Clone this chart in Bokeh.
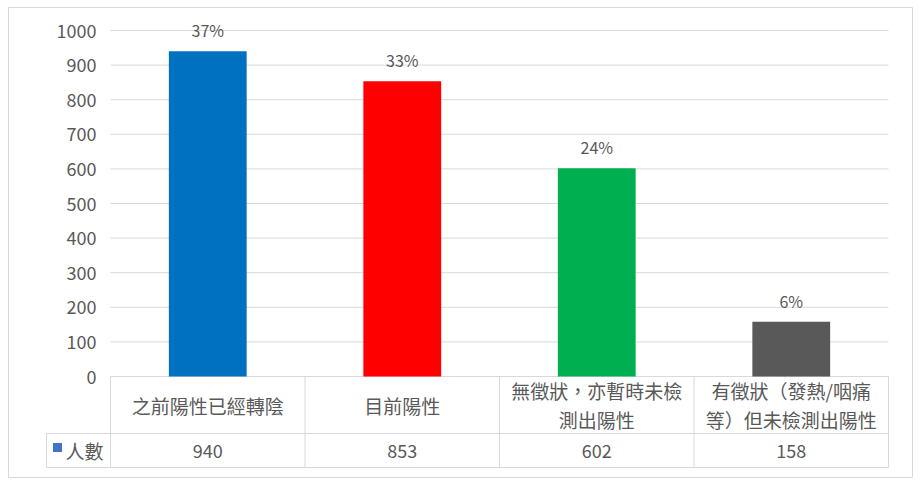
from bokeh.plotting import figure
from bokeh.models import LinearAxis, FixedTicker, Range1d
from bokeh.core.properties import value
from bokeh.embed import file_html
from bokeh.resources import INLINE

# ---- data ----
categories = ["之前陽性已經轉陰", "目前陽性", "無徵狀，亦暫時未檢\n測出陽性", "有徵狀（發熱/咽痛\n等）但未檢測出陽性"]
counts = [940, 853, 602, 158]
pct_labels = ["37%", "33%", "24%", "6%"]
series_name = "人數"
bar_colors = ["#0070C0", "#FF0000", "#00B050", "#595959"]
legend_color = "#4472C4"
y_ticks = [0, 100, 200, 300, 400, 500, 600, 700, 800, 900, 1000]

# ---- layout constants (pixels inside the frame) ----
OFF_L, OFF_T = 8, 7
FW, FH = 905, 471
PX_X0 = 102.0      # left edge of plot area
CAT_W = 194.5      # pixels per category
PX_Y0 = 369.0      # pixel row of value 0
PY = 0.346         # pixels per value unit
ROW1_BOTTOM = 426.0
ROW2_BOTTOM = 460.0
LEFT_COL = 38.0

def X(px):
    return (px - PX_X0) / CAT_W

def Y(py):
    return (PX_Y0 - py) / PY

FONT = value("Noto Sans CJK TC")
GRAY_TXT = "#595959"
LINE = "#d9d9d9"

p = figure(width=OFF_L + FW, height=OFF_T + FH, output_backend="svg", toolbar_location=None,
           x_range=Range1d(X(0), X(FW)), y_range=Range1d(Y(FH), Y(0)),
           x_axis_location=None, y_axis_location=None,
           min_border_left=OFF_L, min_border_top=OFF_T, min_border_right=0, min_border_bottom=0,
           background_fill_color="white", border_fill_color="white")
p.outline_line_color = LINE
p.outline_line_width = 1
p.xgrid.visible = False
p.ygrid.visible = False

n = len(categories)
xc = [i + 0.5 for i in range(n)]

# gridlines
p.segment(x0=[0] * len(y_ticks), x1=[n] * len(y_ticks), y0=y_ticks, y1=y_ticks,
          line_color=LINE, line_width=1)

# bars
p.vbar(x=xc, top=counts, width=0.4, color=bar_colors, line_color=None)

# percent labels
p.text(x=xc, y=counts, text=pct_labels, text_align="center", text_baseline="middle",
       y_offset=-21, text_font=FONT, text_font_size="16px", text_color=GRAY_TXT)

# table lines
y_r1 = Y(ROW1_BOTTOM)
y_r2 = Y(ROW2_BOTTOM)
x_l = X(LEFT_COL)
p.segment(x0=[x_l, x_l], x1=[n, n], y0=[y_r1, y_r2], y1=[y_r1, y_r2], line_color=LINE, line_width=1)
p.segment(x0=list(range(n + 1)), x1=list(range(n + 1)), y0=[0] * (n + 1), y1=[y_r2] * (n + 1),
          line_color=LINE, line_width=1)
p.segment(x0=[x_l], x1=[x_l], y0=[y_r1], y1=[y_r2], line_color=LINE, line_width=1)

# category labels
p.text(x=xc, y=[Y((PX_Y0 + ROW1_BOTTOM) / 2)] * n, text=categories, text_align="center",
       text_baseline="middle", text_font=FONT, text_font_size="19px", text_color=GRAY_TXT,
       text_line_height=1.11)

# value row
y_v = Y((ROW1_BOTTOM + ROW2_BOTTOM) / 2)
p.text(x=xc, y=[y_v] * n, text=[str(c) for c in counts], text_align="center",
       text_baseline="middle", text_font=FONT, text_font_size="18px", text_color=GRAY_TXT)

# legend key in table
p.scatter(x=[X(49)], y=[Y(440)], marker="square", size=9, color=legend_color, line_color=None)
p.text(x=[X(57)], y=[y_v], text=[series_name], text_align="left", text_baseline="middle",
       text_font=FONT, text_font_size="19px", text_color=GRAY_TXT)

# y axis
yaxis = LinearAxis(ticker=FixedTicker(ticks=y_ticks), fixed_location=0)
yaxis.axis_line_color = None
yaxis.major_tick_line_color = None
yaxis.minor_tick_line_color = None
yaxis.major_tick_out = 0
yaxis.major_tick_in = 0
yaxis.major_label_standoff = 14
yaxis.major_label_text_font = "Noto Sans CJK TC"
yaxis.major_label_text_font_size = "18px"
yaxis.major_label_text_color = GRAY_TXT
p.add_layout(yaxis, "left")

open("out.html", "w").write(file_html(p, INLINE))
